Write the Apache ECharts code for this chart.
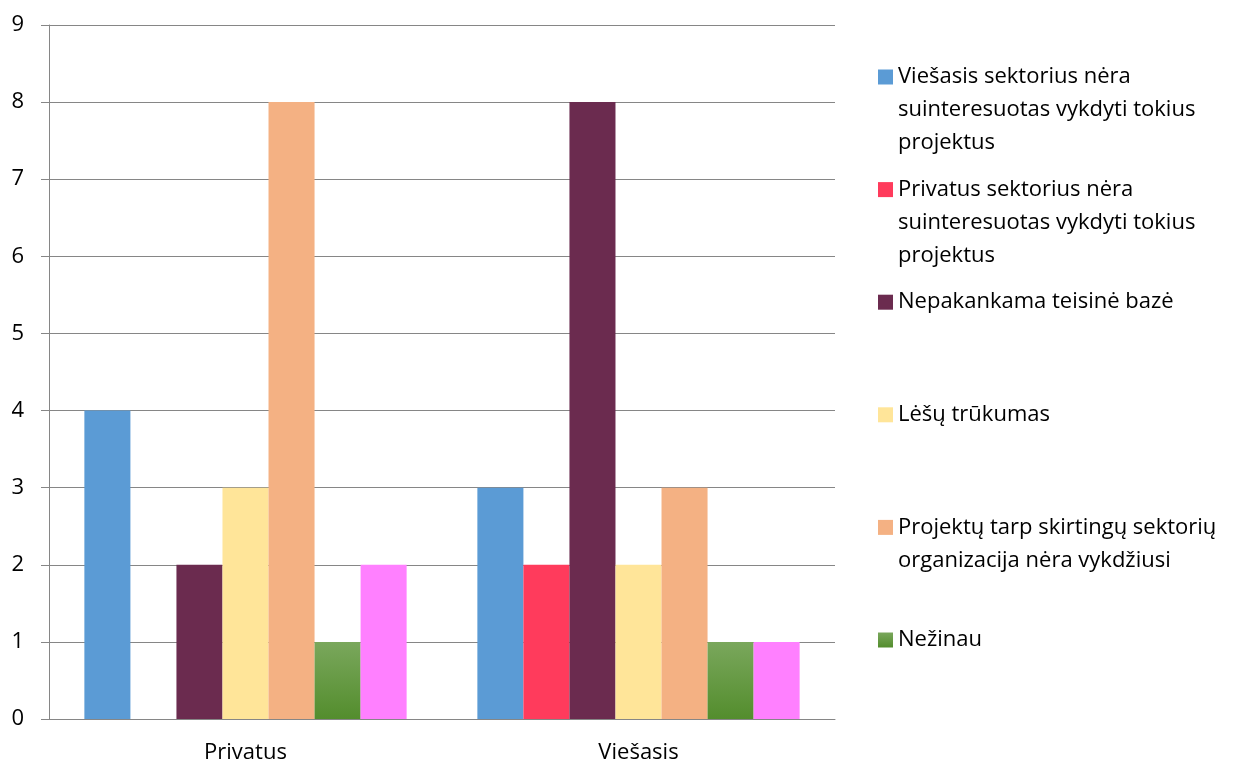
<!DOCTYPE html>
<html>
<head>
<meta charset="utf-8">
<script src="https://cdn.jsdelivr.net/npm/echarts@6/dist/echarts.min.js"></script>
<style>
  html, body { margin: 0; padding: 0; background: #fff; }
  #chart { width: 1238px; height: 765px; }
</style>
</head>
<body>
<div id="chart"></div>
<script>
// categories on the x axis
const groups = ['Privatus', 'Viešasis'];

// series names (the last one has no legend entry in the original)
const seriesNames = [
  'Viešasis sektorius nėra suinteresuotas vykdyti tokius projektus',
  'Privatus sektorius nėra suinteresuotas vykdyti tokius projektus',
  'Nepakankama teisinė bazė',
  'Lėšų trūkumas',
  'Projektų tarp skirtingų sektorių organizacija nėra vykdžiusi',
  'Nežinau',
  'Kita'
];

// wrapped legend labels, as shown in the picture
const legendLabels = [
  'Viešasis sektorius nėra\nsuinteresuotas vykdyti tokius\nprojektus',
  'Privatus sektorius nėra\nsuinteresuotas vykdyti tokius\nprojektus',
  'Nepakankama teisinė bazė',
  'Lėšų trūkumas',
  'Projektų tarp skirtingų sektorių\norganizacija nėra vykdžiusi',
  'Nežinau'
];

// values per series: [Privatus, Viešasis]
const viesasisNesuint = [4, 3];
const privatusNesuint = [0, 2];
const teisineBaze = [2, 8];
const lesuTrukumas = [3, 2];
const nevykdziusi = [8, 3];
const nezinau = [1, 1];
const kita = [2, 1];

const values = [viesasisNesuint, privatusNesuint, teisineBaze, lesuTrukumas, nevykdziusi, nezinau, kita];

const colors = [
  '#5B9BD5',
  '#FF3B5C',
  '#6B2B4F',
  '#FFE599',
  '#F4B183',
  new echarts.graphic.LinearGradient(0, 0, 0, 1, [
    { offset: 0, color: '#7AA75C' },
    { offset: 1, color: '#538D2D' }
  ]),
  '#FF80FF'
];

const FONT = 'Open Sans';
const FS = 22;
const LH = 33;
const legendX = 878;
const legendFirstY = 77;
const legendStep = 112.6;

// one legend per entry so each sits at its own row; blank lines on top
// keep the marker level with the first line of text
const legends = legendLabels.map((label, i) => {
  const lines = label.split('\n').length;
  const half = Math.max(7.5, (2 * lines - 1) * LH / 2);
  const text = '\n'.repeat(lines - 1) + label;
  return {
    data: [seriesNames[i]],
    left: legendX,
    top: legendFirstY + i * legendStep - half,
    padding: 0,
    icon: 'rect',
    itemWidth: 15,
    itemHeight: 15,
    selectedMode: false,
    formatter: () => text,
    textStyle: {
      fontFamily: FONT,
      fontSize: FS,
      color: '#000',
      lineHeight: LH
    }
  };
});

const chart = echarts.init(document.getElementById('chart'));
chart.setOption({
  animation: false,
  color: colors,
  grid: { left: 49, right: 403, top: 25, bottom: 46 },
  legend: legends,
  xAxis: {
    type: 'category',
    data: groups,
    axisLine: { lineStyle: { color: '#868686' } },
    axisTick: { length: 8, lineStyle: { color: '#868686' } },
    axisLabel: { fontFamily: FONT, fontSize: FS, color: '#000', margin: 23 }
  },
  yAxis: {
    type: 'value',
    min: 0,
    max: 9,
    interval: 1,
    axisLine: { show: true, lineStyle: { color: '#868686' } },
    axisTick: { show: true, length: 8, lineStyle: { color: '#868686' } },
    splitLine: { lineStyle: { color: '#868686' } },
    axisLabel: { fontFamily: FONT, fontSize: FS, color: '#000', margin: 25 }
  },
  series: values.map((v, i) => ({
    name: seriesNames[i],
    type: 'bar',
    data: v,
    barGap: 0,
    barCategoryGap: '18%',
    itemStyle: { color: colors[i] }
  }))
});
</script>
</body>
</html>
